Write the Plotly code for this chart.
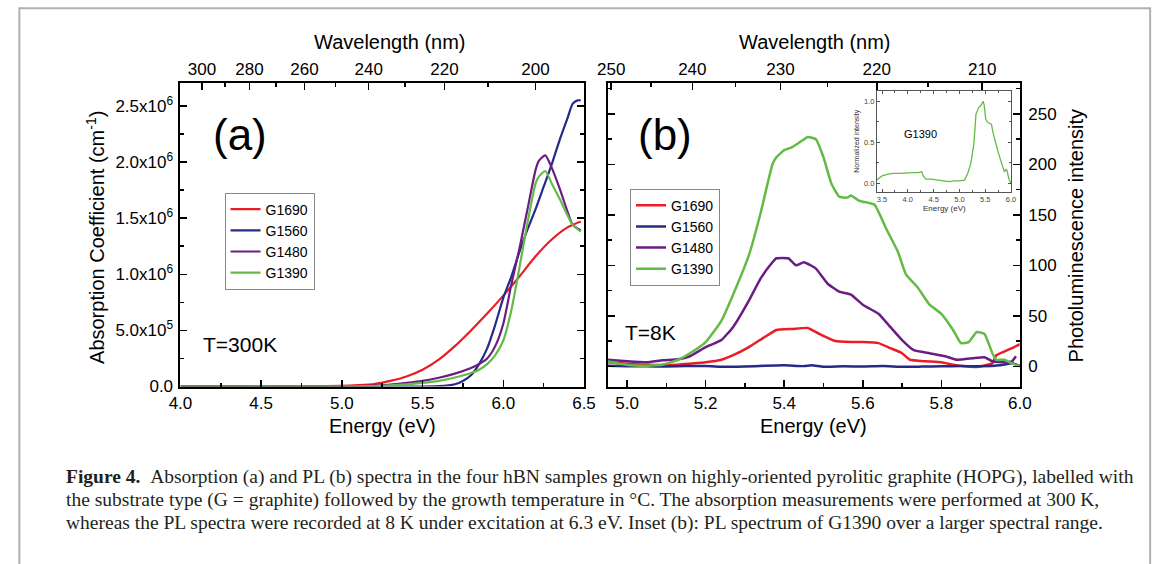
import plotly.graph_objects as go

# ---------------- data ----------------
# Panel (a): absorption coefficient, values in units of 10^6 cm^-1
a_g1690_e = [4.0, 4.5, 4.8, 5.0, 5.1, 5.2, 5.3, 5.4, 5.5, 5.6, 5.7, 5.8, 5.9, 6.0, 6.1, 6.2, 6.3, 6.4, 6.48]
a_g1690_v = [0, 0, 0.002, 0.006, 0.012, 0.022, 0.05, 0.09, 0.15, 0.24, 0.36, 0.50, 0.65, 0.81, 0.98, 1.16, 1.31, 1.42, 1.47]
a_g1560_e = [4.0, 5.0, 5.5, 5.6, 5.7, 5.75, 5.8, 5.85, 5.9, 5.95, 6.0, 6.05, 6.1, 6.15, 6.2, 6.25, 6.3, 6.35, 6.4, 6.43, 6.46, 6.48]
a_g1560_v = [0, 0, 0, 0.003, 0.02, 0.05, 0.1, 0.2, 0.34, 0.55, 0.79, 0.98, 1.2, 1.4, 1.58, 1.78, 1.98, 2.2, 2.4, 2.52, 2.55, 2.55]
a_g1480_e = [4.0, 5.0, 5.2, 5.3, 5.4, 5.5, 5.6, 5.7, 5.8, 5.85, 5.9, 5.95, 6.0, 6.05, 6.1, 6.15, 6.2, 6.22, 6.26, 6.3, 6.35, 6.4, 6.43, 6.48]
a_g1480_v = [0, 0.002, 0.008, 0.018, 0.032, 0.05, 0.078, 0.115, 0.165, 0.2, 0.25, 0.36, 0.56, 0.91, 1.23, 1.58, 1.93, 2.01, 2.06, 1.95, 1.76, 1.55, 1.44, 1.39]
a_g1390_e = [4.0, 5.0, 5.2, 5.3, 5.4, 5.5, 5.6, 5.7, 5.8, 5.85, 5.9, 5.95, 6.0, 6.05, 6.1, 6.15, 6.2, 6.22, 6.26, 6.3, 6.35, 6.4, 6.43, 6.48]
a_g1390_v = [0, 0.001, 0.004, 0.01, 0.02, 0.032, 0.05, 0.08, 0.12, 0.15, 0.2, 0.28, 0.41, 0.68, 1.06, 1.46, 1.81, 1.87, 1.92, 1.81, 1.67, 1.52, 1.44, 1.38]

# Panel (b): PL intensity at 8 K
b_g1690_e = [4.95, 5.0, 5.05, 5.13, 5.16, 5.2, 5.24, 5.27, 5.31, 5.35, 5.38, 5.42, 5.46, 5.49, 5.53, 5.57, 5.6, 5.64, 5.67, 5.7, 5.72, 5.76, 5.8, 5.83, 5.86, 5.89, 5.93, 5.94, 5.96, 5.98, 6.0]
b_g1690_v = [4, 2.6, 1.6, 1.6, 2.6, 4, 6.5, 11, 19, 29, 36, 37, 38, 32, 25, 24, 24, 23, 18, 13, 6.5, 5, 4, 1.6, 0, -0.6, 3, 11, 14.6, 18, 22]
b_g1560_e = [4.95, 5.0, 5.05, 5.1, 5.15, 5.2, 5.25, 5.3, 5.35, 5.4, 5.45, 5.47, 5.5, 5.55, 5.6, 5.65, 5.7, 5.75, 5.8, 5.85, 5.9, 5.95, 5.98, 6.0]
b_g1560_v = [0.5, 0, 0, -0.3, 0.3, 0.3, -0.5, -0.3, 0.5, 1, 0.2, 1, -0.5, 0, -0.3, 0.3, -0.5, -0.3, 0, 0.3, 0, 1, 3, 0.5]
b_g1480_e = [4.95, 5.0, 5.05, 5.09, 5.13, 5.16, 5.2, 5.24, 5.27, 5.31, 5.34, 5.37, 5.38, 5.41, 5.43, 5.45, 5.48, 5.51, 5.54, 5.57, 5.6, 5.64, 5.67, 5.7, 5.73, 5.77, 5.81, 5.84, 5.88, 5.91, 5.93, 5.96, 5.98, 5.99]
b_g1480_v = [6.5, 5, 4, 6, 7, 10, 19, 26, 39, 65, 87, 103, 107, 107, 100, 103, 97, 82, 74, 71, 61, 52, 39, 26, 16, 13, 10, 6.5, 8, 9, 5, 4, 5, 10]
b_g1390_e = [4.95, 4.98, 5.03, 5.09, 5.13, 5.16, 5.2, 5.24, 5.27, 5.31, 5.34, 5.37, 5.38, 5.4, 5.42, 5.44, 5.46, 5.48, 5.5, 5.52, 5.54, 5.56, 5.57, 5.59, 5.6, 5.63, 5.66, 5.69, 5.71, 5.74, 5.77, 5.8, 5.83, 5.85, 5.87, 5.89, 5.91, 5.93, 5.94, 5.96, 5.98, 6.0]
b_g1390_v = [5, 2.6, 0.6, 1.6, 6.5, 13, 24, 45, 71, 110, 152, 200, 207, 214, 217, 222, 227, 225, 207, 181, 168, 167, 169, 164, 163, 160, 136, 113, 91, 78, 61, 52, 36, 23, 24, 34, 32, 13, 6.5, 6.5, 3, 0]

# Inset: normalized PL of G1390 over a larger range
inset_e = [3.4, 3.5, 3.6, 3.7, 3.85, 4.0, 4.1, 4.2, 4.27, 4.3, 4.35, 4.45, 4.55, 4.7, 4.8, 4.9, 5.0, 5.1, 5.16, 5.22, 5.28, 5.32, 5.37, 5.42, 5.46, 5.48, 5.51, 5.55, 5.62, 5.65, 5.7, 5.75, 5.8, 5.84, 5.87, 5.9, 5.92, 5.96, 6.0]
inset_v = [0.04, 0.09, 0.11, 0.12, 0.12, 0.13, 0.13, 0.13, 0.14, 0.09, 0.05, 0.05, 0.04, 0.03, 0.02, 0.03, 0.03, 0.04, 0.12, 0.24, 0.48, 0.84, 0.92, 0.95, 1.0, 0.95, 0.78, 0.74, 0.72, 0.62, 0.48, 0.38, 0.28, 0.2, 0.14, 0.17, 0.16, 0.05, 0.0]

sample_names = ["G1690", "G1560", "G1480", "G1390"]
sample_colors = ["#ec1c24", "#262a86", "#6b1d84", "#62bb46"]

a_ticks_e = [4.0, 4.5, 5.0, 5.5, 6.0, 6.5]
a_ticks_y = [0, 0.5e6, 1.0e6, 1.5e6, 2.0e6, 2.5e6]
a_ticks_y_text = ["0.0", "5.0x10<sup>5</sup>", "1.0x10<sup>6</sup>", "1.5x10<sup>6</sup>",
                  "2.0x10<sup>6</sup>", "2.5x10<sup>6</sup>"]
a_wavelengths = [300, 280, 260, 240, 220, 200]
a_wavelengths_minor = [290, 270, 250, 230, 210]
b_ticks_e = [5.0, 5.2, 5.4, 5.6, 5.8, 6.0]
b_ticks_y = [0, 50, 100, 150, 200, 250]
b_wavelengths = [250, 240, 230, 220, 210]
b_wavelengths_minor = [245, 235, 225, 215, 205]
HC = 1239.84

# ---------------- figure ----------------
W, H = 1168, 564
FONT = "Arial, Liberation Sans, sans-serif"
SERIF = "Liberation Serif, Times New Roman, serif"


def px(x):
    return x / W


def py(y):
    return 1 - y / H


fig = go.Figure()

a_series = [(a_g1690_e, a_g1690_v), (a_g1560_e, a_g1560_v), (a_g1480_e, a_g1480_v), (a_g1390_e, a_g1390_v)]
for name, col, (xs, vs) in zip(sample_names, sample_colors, a_series):
    fig.add_trace(go.Scatter(x=xs, y=[v * 1e6 for v in vs], mode="lines", name=name,
                             line=dict(color=col, width=2.2, shape="spline", smoothing=0.6),
                             xaxis="x", yaxis="y", legend="legend"))
# invisible copy so that the wavelength (top) axis of panel (a) is drawn
fig.add_trace(go.Scatter(x=a_g1690_e, y=[v * 1e6 for v in a_g1690_v], mode="lines", showlegend=False,
                         opacity=0, hoverinfo="skip", line=dict(width=0), xaxis="x2", yaxis="y"))

b_series = [(b_g1690_e, b_g1690_v), (b_g1560_e, b_g1560_v), (b_g1480_e, b_g1480_v), (b_g1390_e, b_g1390_v)]
for name, col, (xs, vs) in zip(sample_names, sample_colors, b_series):
    fig.add_trace(go.Scatter(x=xs, y=vs, mode="lines", name=name,
                             line=dict(color=col, width=2.5, shape="spline", smoothing=0.4),
                             xaxis="x3", yaxis="y3", legend="legend2"))
fig.add_trace(go.Scatter(x=b_g1560_e, y=b_g1560_v, mode="lines", showlegend=False,
                         opacity=0, hoverinfo="skip", line=dict(width=0), xaxis="x4", yaxis="y3"))

fig.add_trace(go.Scatter(x=inset_e, y=inset_v, mode="lines", showlegend=False,
                         line=dict(color=sample_colors[3], width=1.3),
                         xaxis="x5", yaxis="y5"))

tick_font = dict(family=FONT, size=17, color="black")
common = dict(showline=True, linecolor="black", linewidth=2, ticks="inside", ticklen=7,
              tickwidth=1.5, tickcolor="black", showgrid=False, zeroline=False,
              tickfont=tick_font, fixedrange=True)
minor_common = dict(ticks="inside", ticklen=4, tickwidth=1.5, tickcolor="black", showgrid=False)

ydom = [py(393.5), py(85)]

fig.update_layout(
    width=W, height=H, autosize=False,
    margin=dict(l=0, r=0, t=0, b=0),
    paper_bgcolor="white", plot_bgcolor="white",
    showlegend=True,
    xaxis=dict(domain=[px(172), px(584)], range=[4.0, 6.5], anchor="y",
               tickmode="array", tickvals=a_ticks_e, ticktext=[f"{v:.1f}" for v in a_ticks_e],
               minor=dict(tickmode="array", tickvals=[4.25, 4.75, 5.25, 5.75, 6.25], **minor_common),
               ticklabelstandoff=0, **common),
    xaxis2=dict(overlaying="x", side="top", anchor="y", range=[4.0, 6.5],
                tickmode="array", tickvals=[HC / w for w in a_wavelengths],
                ticktext=[str(w) for w in a_wavelengths],
                minor=dict(tickmode="array", tickvals=[HC / w for w in a_wavelengths_minor], **minor_common),
                ticklabelstandoff=0, **common),
    yaxis=dict(domain=ydom, range=[0, 2.7e6], anchor="x", mirror="ticks",
               tickmode="array", tickvals=a_ticks_y, ticktext=a_ticks_y_text,
               minor=dict(tickmode="array", tickvals=[0.25e6, 0.75e6, 1.25e6, 1.75e6, 2.25e6], **minor_common),
               ticklabelstandoff=2, **common),
    xaxis3=dict(domain=[px(608), px(1029)], range=[4.95, 6.0], anchor="y3",
                tickmode="array", tickvals=b_ticks_e, ticktext=[f"{v:.1f}" for v in b_ticks_e],
                minor=dict(tickmode="array", tickvals=[5.1, 5.3, 5.5, 5.7, 5.9], **minor_common),
                ticklabelstandoff=0, **common),
    xaxis4=dict(overlaying="x3", side="top", anchor="y3", range=[4.95, 6.0],
                tickmode="array", tickvals=[HC / w for w in b_wavelengths],
                ticktext=[str(w) for w in b_wavelengths],
                minor=dict(tickmode="array", tickvals=[HC / w for w in b_wavelengths_minor], **minor_common),
                ticklabelstandoff=0, **common),
    yaxis3=dict(domain=ydom, range=[-20, 280], anchor="x3", side="right", mirror="ticks",
                tickmode="array", tickvals=b_ticks_y, ticktext=[str(v) for v in b_ticks_y],
                minor=dict(tickmode="array", tickvals=[25, 75, 125, 175, 225, 275], **minor_common),
                ticklabelstandoff=3, **common),
    xaxis5=dict(domain=[px(883), px(1020)], range=[3.4, 6.0], anchor="y5", mirror="ticks",
                showline=True, linecolor="#555", linewidth=1, ticks="inside", ticklen=3,
                tickwidth=1, tickcolor="#555", showgrid=False, zeroline=False,
                tickmode="array", tickvals=[3.5, 4.0, 4.5, 5.0, 5.5, 6.0],
                ticktext=["3.5", "4.0", "4.5", "5.0", "5.5", "6.0"],
                minor=dict(tickmode="array", tickvals=[3.75, 4.25, 4.75, 5.25, 5.75],
                           ticks="inside", ticklen=2, tickwidth=1, tickcolor="#555"),
                tickfont=dict(family=FONT, size=7.5, color="#444"), ticklabelstandoff=0),
    yaxis5=dict(domain=[py(195), py(93)], range=[-0.1, 1.12], anchor="x5", mirror="ticks",
                showline=True, linecolor="#555", linewidth=1, ticks="inside", ticklen=3,
                tickwidth=1, tickcolor="#555", showgrid=False, zeroline=False,
                tickmode="array", tickvals=[0, 0.5, 1.0], ticktext=["0.0", "0.5", "1.0"],
                minor=dict(tickmode="array", tickvals=[0.25, 0.75],
                           ticks="inside", ticklen=2, tickwidth=1, tickcolor="#555"),
                tickfont=dict(family=FONT, size=7.5, color="#444"), ticklabelstandoff=0),
    legend=dict(x=px(217), y=py(196), xanchor="left", yanchor="top",
                bordercolor="#888", borderwidth=1, bgcolor="white",
                font=dict(family=FONT, size=14, color="black"), tracegroupgap=0, itemwidth=30),
    legend2=dict(x=px(631), y=py(192), xanchor="left", yanchor="top",
                 bordercolor="#888", borderwidth=1, bgcolor="white",
                 font=dict(family=FONT, size=14, color="black"), tracegroupgap=0, itemwidth=30),
)


def ann(text, x, y, size, angle=0, family=FONT, xanchor="center", color="black"):
    fig.add_annotation(text=text, x=px(x), y=py(y), xref="paper", yref="paper",
                       showarrow=False, textangle=angle, xanchor=xanchor, yanchor="middle",
                       align="left" if xanchor == "left" else "center",
                       font=dict(family=family, size=size, color=color))


ann("Wavelength (nm)", 386, 43, 20)
ann("Wavelength (nm)", 820, 43, 20)
ann("Energy (eV)", 378, 434, 20)
ann("Energy (eV)", 818, 434, 20)
ann("Absorption Coefficient (cm<sup>-1</sup>)", 85, 242, 20, angle=-90)
ann("Photoluminescence intensity", 1086, 240, 20, angle=-90)
ann("(a)", 233, 137, 44)
ann("(b)", 667, 137, 44)
ann("T=300K", 233, 351, 21)
ann("T=8K", 652, 338, 21)
ann("G1390", 928, 136, 11)
ann("Normalized intensity", 863, 143, 7, angle=-90, color="#333")
ann("Energy (eV)", 952, 212, 8, color="#333")

cap1 = ("<b>Figure 4.</b>&nbsp;&nbsp;Absorption (a) and PL (b) spectra in the four hBN samples grown on "
        "highly-oriented pyrolitic graphite (HOPG), labelled with")
cap2 = ("the substrate type (G = graphite) followed by the growth temperature in °C. "
        "The absorption measurements were performed at 300 K,")
cap3 = ("whereas the PL spectra were recorded at 8 K under excitation at 6.3 eV. "
        "Inset (b): PL spectrum of G1390 over a larger spectral range.")
ann(cap1, 53, 486, 19.5, family=SERIF, xanchor="left", color="#231f20")
ann(cap2, 53, 509, 19.5, family=SERIF, xanchor="left", color="#231f20")
ann(cap3, 53, 532, 19.5, family=SERIF, xanchor="left", color="#231f20")

fig.add_shape(type="rect", xref="paper", yref="paper", x0=px(7.5), y0=py(8.5), x1=px(1162), y1=py(580),
              line=dict(color="#b0b0b0", width=2), fillcolor="rgba(0,0,0,0)", layer="below")

fig.write_html("out.html", config={"displayModeBar": False, "staticPlot": True},
               post_script="document.body.style.margin='0';document.body.style.overflow='hidden';")
